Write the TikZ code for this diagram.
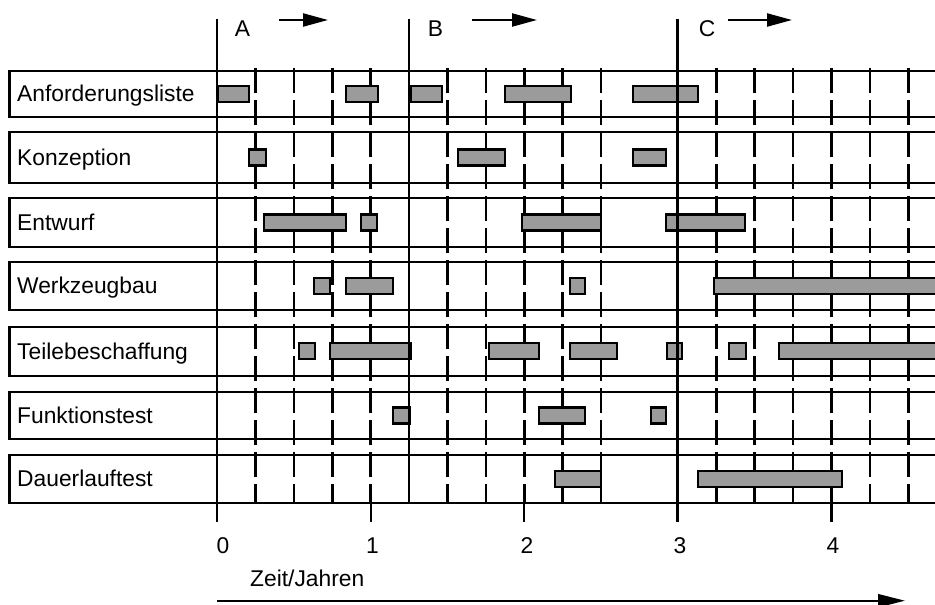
\documentclass[tikz,border=0pt]{standalone}
\usepackage{fontspec}
\setmainfont{Liberation Sans}
\usetikzlibrary{arrows.meta}
\definecolor{barfill}{RGB}{155,155,155}
\tikzset{
 rowbox/.style={draw=black, line width=2.2pt},
 gridline/.style={line width=2.6pt, dash pattern=on 25pt off 7pt},
 solidline/.style={line width=2.2pt},
 barbox/.style={draw=black, line width=2.2pt, fill=barfill},
 lbl/.style={font=\fontsize{22.8}{27}\selectfont, inner sep=0pt},
 phase/.style={line width=2.2pt, -{Triangle[length=25pt,width=13pt]}},
 timearrow/.style={line width=2.2pt, -{Triangle[length=27pt,width=13pt]}},
}
\newcommand\mybar[3]{\draw[barbox] (#2,#1-8) rectangle (#3,#1+8);}
\begin{document}
\begin{tikzpicture}[x=1pt,y=-1pt]
\useasboundingbox (0,0) rectangle (935,605);
% dashed quarter grid
\foreach \k in {1,2,3,4,6,7,8,9,10,12,13,14,15,16,17,18}
  \draw[gridline] ({217+38.4*\k},68) -- ({217+38.4*\k},503);
% rows
\draw[rowbox] (9.5,70.7) rectangle (940,116.7);
\draw[rowbox] (9.5,132.3) rectangle (940,182.7);
\draw[rowbox] (9.5,198.3) rectangle (940,246.7);
\draw[rowbox] (9.5,261.7) rectangle (940,310);
\draw[rowbox] (9.5,326.7) rectangle (940,376);
\draw[rowbox] (9.5,391.7) rectangle (940,439.3);
\draw[rowbox] (9.5,455) rectangle (940,503.3);
% row labels
\node[lbl, anchor=base west] (l1) at (17,101.5) {Anforderungsliste};
\node[lbl, anchor=base west] (l2) at (17,165.3) {Konzeption};
\node[lbl, anchor=base west] (l3) at (17,230.3) {Entwurf};
\node[lbl, anchor=base west] (l4) at (17,293.6) {Werkzeugbau};
\node[lbl, anchor=base west] (l5) at (17,359.1) {Teilebeschaffung};
\node[lbl, anchor=base west] (l6) at (17,423.3) {Funktionstest};
\node[lbl, anchor=base west] (l7) at (17,486.9) {Dauerlauftest};
% bars
\mybar{93.7}{218}{249}\mybar{93.7}{346}{378}\mybar{93.7}{411}{442}\mybar{93.7}{505}{571}\mybar{93.7}{633}{698}
\mybar{157.5}{249}{266}\mybar{157.5}{458}{505}\mybar{157.5}{633}{666}
\mybar{222.5}{264}{346}\mybar{222.5}{361}{377}\mybar{222.5}{522}{601}\mybar{222.5}{666}{745}
\mybar{285.85}{314}{330}\mybar{285.85}{346}{393}\mybar{285.85}{570}{585}\mybar{285.85}{714}{945}
\mybar{351.35}{299}{315}\mybar{351.35}{330}{411}\mybar{351.35}{489}{539}\mybar{351.35}{570}{617}\mybar{351.35}{667}{682}\mybar{351.35}{729}{746}\mybar{351.35}{779}{945}
\mybar{415.5}{393}{410}\mybar{415.5}{539}{585}\mybar{415.5}{651}{666}
\mybar{479.15}{555}{601}\mybar{479.15}{698}{842}
% solid phase lines
\draw[solidline] (217,19) -- (217,522);
\draw[solidline] (409,19) -- (409,503);
\draw[solidline] (677.5,19) -- (677.5,522);
% year ticks below axis
\draw[solidline] (370.6,503) -- (370.6,522);
\draw[solidline] (524.2,503) -- (524.2,522);
\draw[solidline] (831.4,503) -- (831.4,522);
% tick labels
\node[lbl] (t0) at (223,546) {0};
\node[lbl] (t1) at (372.5,546) {1};
\node[lbl] (t2) at (527,546) {2};
\node[lbl] (t3) at (680,546) {3};
\node[lbl] (t4) at (833,546) {4};
\node[lbl, anchor=base west] (zeit) at (250,586.7) {Zeit/Jahren};
% phase letters and arrows
\node[lbl, anchor=base] (pa) at (242.5,36) {A};
\node[lbl, anchor=base] (pb) at (435.5,36) {B};
\node[lbl, anchor=base] (pc) at (707,36) {C};
\coordinate (a1) at (279,20); \coordinate (a2) at (328,20);
\coordinate (b1) at (472,20); \coordinate (b2) at (537,20);
\coordinate (c1) at (728,20); \coordinate (c2) at (792,20);
\draw[phase] (a1) -- (a2);
\draw[phase] (b1) -- (b2);
\draw[phase] (c1) -- (c2);
\coordinate (ts) at (217,600.7); \coordinate (te) at (905,600.7);
\draw[timearrow] (ts) -- (te);
\end{tikzpicture}
\end{document}
